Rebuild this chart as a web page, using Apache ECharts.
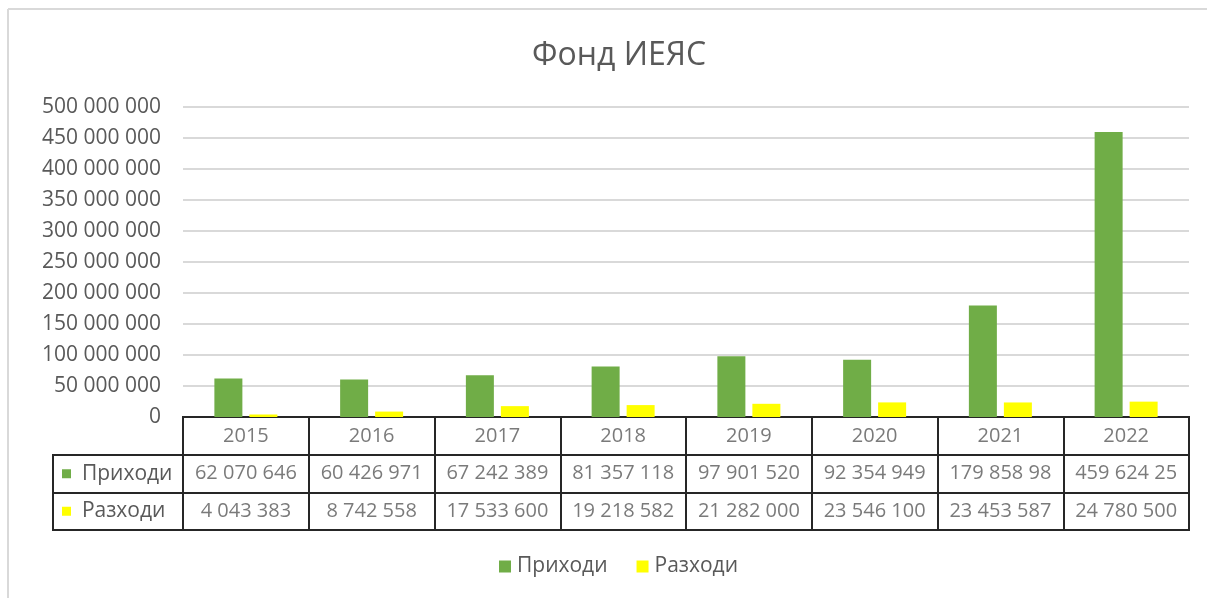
<!DOCTYPE html>
<html>
<head>
<meta charset="utf-8">
<script src="https://cdn.jsdelivr.net/npm/echarts@6/dist/echarts.min.js"></script>
<style>
html,body{margin:0;padding:0;background:#fff;}
#chart{width:1207px;height:598px;}
</style>
</head>
<body>
<div id="chart"></div>
<script>
var years = ['2015','2016','2017','2018','2019','2020','2021','2022'];
var income = [62070646, 60426971, 67242389, 81357118, 97901520, 92354949, 179858980, 459624250];
var expenses = [4043383, 8742558, 17533600, 19218582, 21282000, 23546100, 23453587, 24780500];
var seriesNames = ['Приходи', 'Разходи'];
var colors = ['#70AD47', '#FFFF00'];
var titleText = 'Фонд ИЕЯС';

var FONT = '"Open Sans", "Noto Sans", sans-serif';
var TXT = '#595959';
var BORDER = '#262626';

function fmt(v) {
  return String(v).replace(/\B(?=(\d{3})+(?!\d))/g, ' ');
}
// cells show only as much text as fits (10 characters)
function cellText(v) { return fmt(v).slice(0, 10); }

var tableRows = ['year', seriesNames[0], seriesNames[1]];
var cellData = [];
var cellTexts = [];
years.forEach(function (y, i) {
  cellData.push([i, 0]); cellTexts.push(y);
  cellData.push([i, 1]); cellTexts.push(cellText(income[i]));
  cellData.push([i, 2]); cellTexts.push(cellText(expenses[i]));
});

var chart = echarts.init(document.getElementById('chart'), null, {renderer: 'canvas'});
chart.setOption({
  backgroundColor: '#fff',
  animation: false,
  textStyle: {fontFamily: FONT},
  title: {
    text: titleText, left: 527, top: 35,
    textStyle: {fontFamily: FONT, fontSize: 32, fontWeight: 'normal', color: TXT}
  },
  legend: {
    data: seriesNames, bottom: 16, left: 494,
    icon: 'rect', itemWidth: 12, itemHeight: 12, itemGap: 29,
    textStyle: {fontFamily: FONT, fontSize: 21, color: TXT, padding: [0,0,0,1]}
  },
  graphic: [
    {type: 'line', shape: {x1: 8, y1: 9, x2: 1207, y2: 9}, style: {stroke: '#d9d9d9', lineWidth: 2}, silent: true},
    {type: 'line', shape: {x1: 8, y1: 9, x2: 8, y2: 598}, style: {stroke: '#d9d9d9', lineWidth: 2}, silent: true}
  ],
  grid: [
    {left: 183, right: 18, top: 107, height: 310},
    {left: 183, right: 18, top: 417, height: 113, show: true, borderColor: BORDER, borderWidth: 2},
    {left: 53, width: 130, top: 455, height: 75, show: true, borderColor: BORDER, borderWidth: 2}
  ],
  xAxis: [
    {type: 'category', gridIndex: 0, data: years, axisLine: {show: false}, axisTick: {show: false}, axisLabel: {show: false}},
    {type: 'category', gridIndex: 1, data: years, axisLine: {show: false}, axisTick: {show: false}, axisLabel: {show: false},
     splitLine: {show: true, lineStyle: {color: BORDER, width: 2}}},
    {type: 'category', gridIndex: 2, data: ['h'], axisLine: {show: false}, axisTick: {show: false}, axisLabel: {show: false}}
  ],
  yAxis: [
    {type: 'value', gridIndex: 0, min: 0, max: 500000000, interval: 50000000,
     axisLine: {show: false}, axisTick: {show: false},
     axisLabel: {formatter: fmt, fontFamily: FONT, fontSize: 21, color: TXT, margin: 22},
     splitLine: {lineStyle: {color: '#d9d9d9', width: 2}}},
    {type: 'category', gridIndex: 1, data: tableRows, inverse: true,
     axisLine: {show: false}, axisTick: {show: false}, axisLabel: {show: false},
     splitLine: {show: true, interval: 0, lineStyle: {color: BORDER, width: 2}}},
    {type: 'category', gridIndex: 2, data: seriesNames, inverse: true,
     axisLine: {show: false}, axisTick: {show: false},
     splitLine: {show: true, interval: 0, lineStyle: {color: BORDER, width: 2}},
     axisLabel: {inside: true, margin: 9, fontFamily: FONT, fontSize: 21, color: TXT,
       formatter: function (v, i) { return '{s' + i + '|}  ' + v; },
       rich: {
         s0: {width: 9, height: 9, backgroundColor: colors[0]},
         s1: {width: 9, height: 9, backgroundColor: colors[1]}
       }}}
  ],
  series: [
    {name: seriesNames[0], type: 'bar', xAxisIndex: 0, yAxisIndex: 0, data: income,
     barWidth: 28, barGap: '25%', itemStyle: {color: colors[0]}},
    {name: seriesNames[1], type: 'bar', xAxisIndex: 0, yAxisIndex: 0, data: expenses,
     barWidth: 28, barGap: '25%', itemStyle: {color: colors[1]}},
    {name: 'table', type: 'scatter', xAxisIndex: 1, yAxisIndex: 1, data: cellData, symbolSize: 0,
     silent: true,
     label: {show: true, position: 'inside', fontFamily: FONT, fontSize: 20, color: TXT,
       formatter: function (p) { return cellTexts[p.dataIndex]; }}}
  ]
});
</script>
</body>
</html>
